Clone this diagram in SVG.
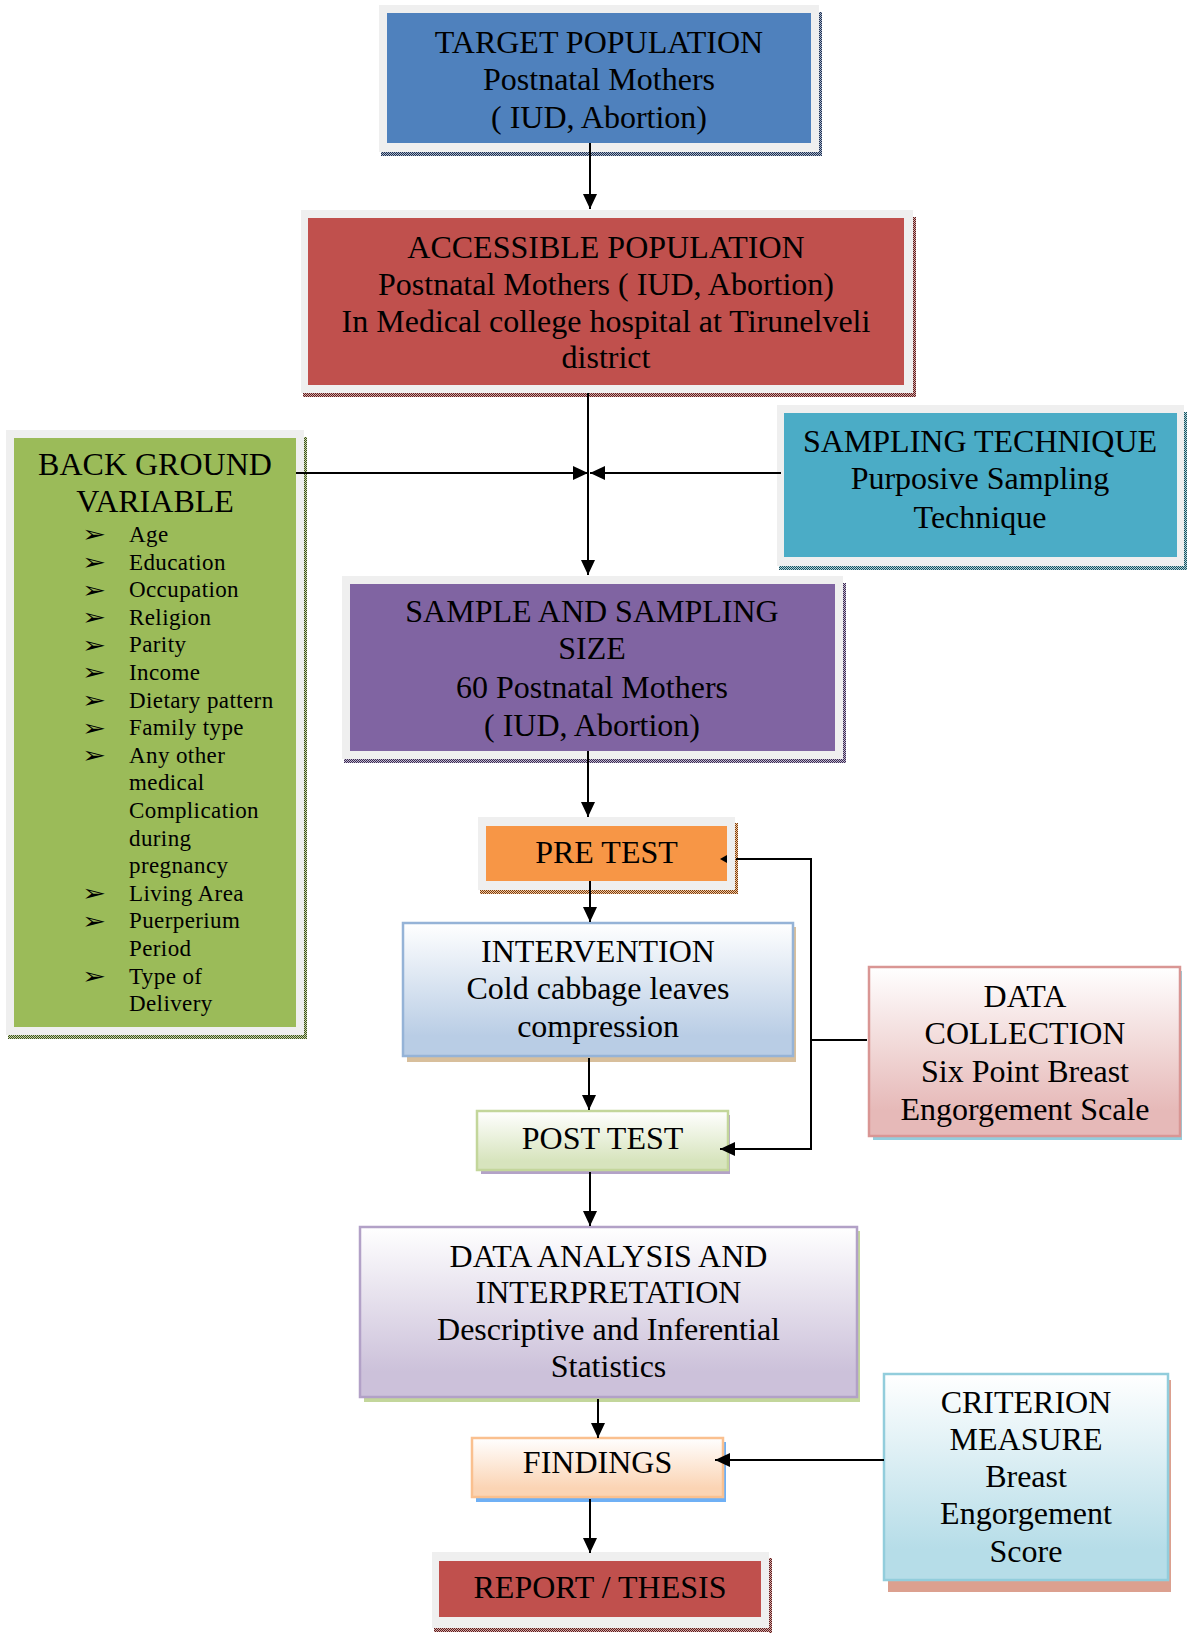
<svg xmlns="http://www.w3.org/2000/svg" width="1187" height="1634" viewBox="0 0 1187 1634">
<defs>
<style>
.t{font-family:"Liberation Serif","Times New Roman",serif;font-size:32px;fill:#000;text-anchor:middle}
.li{font-family:"Liberation Serif","Times New Roman",serif;font-size:23px;fill:#000;letter-spacing:0.4px}
.bu{font-family:"DejaVu Sans",sans-serif;font-size:23px;fill:#000}
.frame{fill:#efefef}
.ln{stroke:#000;stroke-width:2;fill:none}
.arr{marker-end:url(#ah)}
</style>
<marker id="ah" viewBox="0 0 15 14" refX="15" refY="7" markerWidth="15" markerHeight="14" markerUnits="userSpaceOnUse" orient="auto">
<path d="M0,0 L15,7 L0,14 z" fill="#000"/>
</marker>
<pattern id="pdBlue" width="2" height="2" patternUnits="userSpaceOnUse"><rect width="2" height="2" fill="#a9b7cc"/><rect width="1" height="1" fill="#1f2f4f"/><rect x="1" y="1" width="1" height="1" fill="#1f2f4f"/></pattern>
<pattern id="pdRed" width="2" height="2" patternUnits="userSpaceOnUse"><rect width="2" height="2" fill="#d9a9a8"/><rect width="1" height="1" fill="#5a1f1e"/><rect x="1" y="1" width="1" height="1" fill="#5a1f1e"/></pattern>
<pattern id="pdTeal" width="2" height="2" patternUnits="userSpaceOnUse"><rect width="2" height="2" fill="#a9d4de"/><rect width="1" height="1" fill="#1f4f5a"/><rect x="1" y="1" width="1" height="1" fill="#1f4f5a"/></pattern>
<pattern id="pdPurple" width="2" height="2" patternUnits="userSpaceOnUse"><rect width="2" height="2" fill="#c2b6d2"/><rect width="1" height="1" fill="#3a2d4f"/><rect x="1" y="1" width="1" height="1" fill="#3a2d4f"/></pattern>
<pattern id="pdOrange" width="2" height="2" patternUnits="userSpaceOnUse"><rect width="2" height="2" fill="#f5c8a0"/><rect width="1" height="1" fill="#7a3f10"/><rect x="1" y="1" width="1" height="1" fill="#7a3f10"/></pattern>
<pattern id="pdGreen" width="2" height="2" patternUnits="userSpaceOnUse"><rect width="2" height="2" fill="#c8d8a8"/><rect width="1" height="1" fill="#3d4f1f"/><rect x="1" y="1" width="1" height="1" fill="#3d4f1f"/></pattern>
<linearGradient id="gBlue" x1="0" y1="0" x2="0" y2="1"><stop offset="0" stop-color="#ffffff"/><stop offset="0.85" stop-color="#b9cde5"/><stop offset="1" stop-color="#b9cde5"/></linearGradient>
<linearGradient id="gGreen" x1="0" y1="0" x2="0" y2="1"><stop offset="0" stop-color="#ffffff"/><stop offset="0.85" stop-color="#d7e4bd"/><stop offset="1" stop-color="#d7e4bd"/></linearGradient>
<linearGradient id="gPurple" x1="0" y1="0" x2="0" y2="1"><stop offset="0" stop-color="#ffffff"/><stop offset="0.85" stop-color="#ccc1da"/><stop offset="1" stop-color="#ccc1da"/></linearGradient>
<linearGradient id="gOrange" x1="0" y1="0" x2="0" y2="1"><stop offset="0" stop-color="#ffffff"/><stop offset="0.85" stop-color="#fbd4b4"/><stop offset="1" stop-color="#fbd4b4"/></linearGradient>
<linearGradient id="gRed" x1="0" y1="0" x2="0" y2="1"><stop offset="0" stop-color="#ffffff"/><stop offset="0.85" stop-color="#e6b9b8"/><stop offset="1" stop-color="#e6b9b8"/></linearGradient>
<linearGradient id="gAqua" x1="0" y1="0" x2="0" y2="1"><stop offset="0" stop-color="#ffffff"/><stop offset="0.85" stop-color="#b6dde8"/><stop offset="1" stop-color="#b6dde8"/></linearGradient>
</defs>
<rect width="1187" height="1634" fill="#ffffff"/>

<g id="target-population">
<rect x="819" y="12" width="3" height="144" fill="url(#pdBlue)"/>
<rect x="381" y="152" width="441" height="4" fill="url(#pdBlue)"/>
<rect class="frame" x="379" y="5" width="440" height="147"/>
<rect x="387" y="13" width="424" height="130" fill="#4f81bd"/>
<text class="t" x="599" y="53">TARGET POPULATION</text>
<text class="t" x="599" y="90">Postnatal Mothers</text>
<text class="t" x="599" y="128">( IUD, Abortion)</text>
</g>

<g id="accessible-population">
<rect x="913" y="217" width="3" height="180" fill="url(#pdRed)"/>
<rect x="303" y="393" width="613" height="4" fill="url(#pdRed)"/>
<rect class="frame" x="301" y="210" width="612" height="183"/>
<rect x="308" y="218" width="596" height="167" fill="#c0504d"/>
<text class="t" x="606" y="258">ACCESSIBLE POPULATION</text>
<text class="t" x="606" y="295">Postnatal Mothers ( IUD, Abortion)</text>
<text class="t" x="606" y="332">In Medical college hospital at Tirunelveli</text>
<text class="t" x="606" y="368">district</text>
</g>

<g id="background-variable">
<rect x="304" y="437" width="3" height="602" fill="url(#pdGreen)"/>
<rect x="8" y="1035" width="299" height="4" fill="url(#pdGreen)"/>
<rect class="frame" x="6" y="430" width="298" height="605"/>
<rect x="14" y="438" width="282" height="589" fill="#9bbb59"/>
<text class="t" x="155" y="475">BACK GROUND</text>
<text class="t" x="155" y="512">VARIABLE</text>
<g transform="translate(82,0) scale(1.25,1)">
<text class="bu" x="0" y="542.5">➢</text>
<text class="bu" x="0" y="570.1">➢</text>
<text class="bu" x="0" y="597.7">➢</text>
<text class="bu" x="0" y="625.3">➢</text>
<text class="bu" x="0" y="652.9">➢</text>
<text class="bu" x="0" y="680.5">➢</text>
<text class="bu" x="0" y="708.1">➢</text>
<text class="bu" x="0" y="735.7">➢</text>
<text class="bu" x="0" y="763.3">➢</text>
<text class="bu" x="0" y="901.3">➢</text>
<text class="bu" x="0" y="928.9">➢</text>
<text class="bu" x="0" y="984.1">➢</text>
</g>
<text class="li" x="129" y="542">Age</text>
<text class="li" x="129" y="569.6">Education</text>
<text class="li" x="129" y="597.2">Occupation</text>
<text class="li" x="129" y="624.8">Religion</text>
<text class="li" x="129" y="652.4">Parity</text>
<text class="li" x="129" y="680">Income</text>
<text class="li" x="129" y="707.6">Dietary pattern</text>
<text class="li" x="129" y="735.2">Family type</text>
<text class="li" x="129" y="762.8">Any other</text>
<text class="li" x="129" y="790.4">medical</text>
<text class="li" x="129" y="818">Complication</text>
<text class="li" x="129" y="845.6">during</text>
<text class="li" x="129" y="873.2">pregnancy</text>
<text class="li" x="129" y="900.8">Living Area</text>
<text class="li" x="129" y="928.4">Puerperium</text>
<text class="li" x="129" y="956">Period</text>
<text class="li" x="129" y="983.6">Type of</text>
<text class="li" x="129" y="1011.2">Delivery</text>
</g>

<g id="sampling-technique">
<rect x="1184" y="412" width="3" height="158" fill="url(#pdTeal)"/>
<rect x="779" y="566" width="408" height="4" fill="url(#pdTeal)"/>
<rect class="frame" x="777" y="405" width="407" height="161"/>
<rect x="784" y="413" width="393" height="144" fill="#4bacc6"/>
<text class="t" x="980" y="452">SAMPLING TECHNIQUE</text>
<text class="t" x="980" y="489">Purposive Sampling</text>
<text class="t" x="980" y="528">Technique</text>
</g>

<g id="sample-size">
<rect x="843" y="583" width="3" height="180" fill="url(#pdPurple)"/>
<rect x="344" y="759" width="502" height="4" fill="url(#pdPurple)"/>
<rect class="frame" x="342" y="576" width="501" height="183"/>
<rect x="350" y="584" width="485" height="167" fill="#8064a2"/>
<text class="t" x="592" y="622">SAMPLE AND SAMPLING</text>
<text class="t" x="592" y="659">SIZE</text>
<text class="t" x="592" y="698">60 Postnatal Mothers</text>
<text class="t" x="592" y="736">( IUD, Abortion)</text>
</g>

<g id="pre-test">
<rect x="735" y="823" width="3" height="71" fill="url(#pdOrange)"/>
<rect x="480" y="890" width="258" height="4" fill="url(#pdOrange)"/>
<rect class="frame" x="478" y="817" width="257" height="73"/>
<rect x="486" y="826" width="241" height="55" fill="#f79646"/>
<text class="t" x="606.5" y="863">PRE TEST</text>
</g>

<g id="intervention">
<rect x="407" y="927" width="389" height="135" fill="#d8bf9c"/>
<rect x="403" y="923" width="390" height="133" fill="url(#gBlue)" stroke="#95b3d7" stroke-width="2.5"/>
<text class="t" x="598" y="962">INTERVENTION</text>
<text class="t" x="598" y="999">Cold cabbage leaves</text>
<text class="t" x="598" y="1037">compression</text>
</g>

<g id="post-test">
<rect x="481" y="1115" width="249" height="59" fill="#b3a2c7"/>
<rect x="477" y="1111" width="251" height="59" fill="url(#gGreen)" stroke="#c3d69b" stroke-width="2.5"/>
<text class="t" x="602.5" y="1149">POST TEST</text>
</g>

<g id="data-collection">
<rect x="873" y="971" width="309" height="169" fill="#93cddd"/>
<rect x="869" y="967" width="311" height="169" fill="url(#gRed)" stroke="#d99694" stroke-width="2.5"/>
<text class="t" x="1025" y="1007">DATA</text>
<text class="t" x="1025" y="1044">COLLECTION</text>
<text class="t" x="1025" y="1082">Six Point Breast</text>
<text class="t" x="1025" y="1120">Engorgement Scale</text>
</g>

<g id="data-analysis">
<rect x="364" y="1231" width="496" height="171" fill="#c3d69b"/>
<rect x="360" y="1227" width="497" height="170" fill="url(#gPurple)" stroke="#b2a1c7" stroke-width="2.5"/>
<text class="t" x="608.5" y="1267">DATA ANALYSIS AND</text>
<text class="t" x="608.5" y="1303">INTERPRETATION</text>
<text class="t" x="608.5" y="1340">Descriptive and Inferential</text>
<text class="t" x="608.5" y="1377">Statistics</text>
</g>

<g id="findings">
<rect x="476" y="1442" width="250" height="60" fill="#6fb0f5"/>
<rect x="472" y="1438" width="251" height="59" fill="url(#gOrange)" stroke="#fac08f" stroke-width="2.5"/>
<text class="t" x="597.5" y="1473">FINDINGS</text>
</g>

<g id="criterion-measure">
<rect x="888" y="1380" width="283" height="212" fill="#dca08f"/>
<rect x="884" y="1374" width="284" height="206" fill="url(#gAqua)" stroke="#92cddc" stroke-width="2.5"/>
<text class="t" x="1026" y="1413">CRITERION</text>
<text class="t" x="1026" y="1450">MEASURE</text>
<text class="t" x="1026" y="1487">Breast</text>
<text class="t" x="1026" y="1524">Engorgement</text>
<text class="t" x="1026" y="1562">Score</text>
</g>

<g id="report-thesis">
<rect x="769" y="1558" width="3" height="75" fill="url(#pdRed)"/>
<rect x="434" y="1628" width="338" height="4" fill="url(#pdRed)"/>
<rect class="frame" x="432" y="1552" width="337" height="76"/>
<rect x="439" y="1561" width="322" height="56" fill="#c0504d"/>
<text class="t" x="600" y="1598">REPORT / THESIS</text>
</g>

<g id="connectors">
<line class="ln arr" x1="590" y1="143" x2="590" y2="209"/>
<line class="ln arr" x1="588" y1="393" x2="588" y2="575"/>
<line class="ln arr" x1="296" y1="473" x2="588" y2="473"/>
<line class="ln arr" x1="781" y1="473" x2="590" y2="473"/>
<line class="ln arr" x1="588" y1="751" x2="588" y2="817"/>
<line class="ln arr" x1="590" y1="881" x2="590" y2="922"/>
<line class="ln arr" x1="589" y1="1058" x2="589" y2="1110"/>
<line class="ln arr" x1="590" y1="1172" x2="590" y2="1226"/>
<line class="ln arr" x1="598" y1="1399" x2="598" y2="1438"/>
<line class="ln arr" x1="590" y1="1499" x2="590" y2="1553"/>
<line class="ln arr" x1="884" y1="1460" x2="715" y2="1460"/>
<polyline class="ln" points="736,859 811,859 811,1149 735,1149"/>
<line class="ln arr" x1="736" y1="1149" x2="720" y2="1149"/>
<line class="ln" x1="811" y1="1040" x2="867" y2="1040"/>
<polygon points="720,859 727,855 727,863" fill="#000"/>
</g>
</svg>
